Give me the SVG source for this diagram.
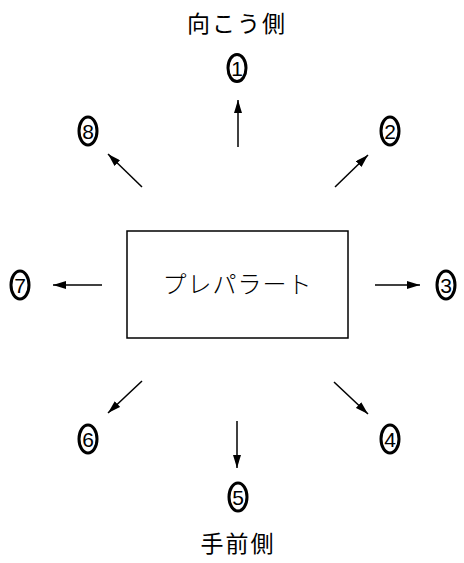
<svg xmlns="http://www.w3.org/2000/svg" width="464" height="563" viewBox="0 0 464 563">
<style>
.jp{font-family:"Noto Sans CJK JP","Noto Sans",sans-serif;fill:#000;text-anchor:middle}
.num ellipse{fill:none;stroke:#000;stroke-width:3}
.num text{font-family:"Liberation Sans",Arial,sans-serif;font-size:21px;text-anchor:middle;fill:#000}
.arr{stroke:#000;stroke-width:1.5;fill:none;marker-end:url(#ah)}
</style>
<defs>
<marker id="ah" viewBox="0 0 13 8" refX="13" refY="4" markerWidth="13" markerHeight="8" markerUnits="userSpaceOnUse" orient="auto">
<path d="M0,0 L13,4 L0,8 Z" fill="#000"/>
</marker>
</defs>
<rect width="464" height="563" fill="#fff"/>
<g id="label-top"><text class="jp" x="237" y="32" font-size="23" letter-spacing="2">向こう側</text></g>
<g id="label-bottom"><text class="jp" x="238" y="552" font-size="23" letter-spacing="2">手前側</text></g>
<g id="slide">
<rect x="127" y="231" width="221" height="107" fill="none" stroke="#000" stroke-width="1.5"/>
<text class="jp" x="237.5" y="293" font-size="24" font-weight="300" letter-spacing="1">プレパラート</text>
</g>
<g id="n1" class="num"><ellipse cx="237" cy="68" rx="9" ry="13.5"/><text x="237" y="75.5">1</text></g>
<g id="n2" class="num"><ellipse cx="390" cy="131" rx="9" ry="14"/><text x="390" y="138.5">2</text></g>
<g id="n3" class="num"><ellipse cx="446" cy="285" rx="9" ry="14"/><text x="446" y="292.5">3</text></g>
<g id="n4" class="num"><ellipse cx="390" cy="439" rx="9" ry="14"/><text x="390" y="446.5">4</text></g>
<g id="n5" class="num"><ellipse cx="238" cy="497" rx="9" ry="14"/><text x="238" y="504.5">5</text></g>
<g id="n6" class="num"><ellipse cx="88" cy="439" rx="9" ry="14"/><text x="88" y="446.5">6</text></g>
<g id="n7" class="num"><ellipse cx="20" cy="285" rx="9" ry="14"/><text x="20" y="292.5">7</text></g>
<g id="n8" class="num"><ellipse cx="88" cy="131" rx="9" ry="14"/><text x="88" y="138.5">8</text></g>
<g id="connectors">
<line class="arr" x1="238" y1="147" x2="238" y2="100"/>
<line class="arr" x1="335" y1="187" x2="368" y2="155"/>
<line class="arr" x1="375" y1="285" x2="420" y2="285"/>
<line class="arr" x1="334" y1="382" x2="368" y2="414"/>
<line class="arr" x1="237" y1="421" x2="237" y2="468"/>
<line class="arr" x1="142" y1="381" x2="108" y2="413"/>
<line class="arr" x1="102" y1="285" x2="53" y2="285"/>
<line class="arr" x1="142" y1="187" x2="108" y2="154"/>
</g>
</svg>
